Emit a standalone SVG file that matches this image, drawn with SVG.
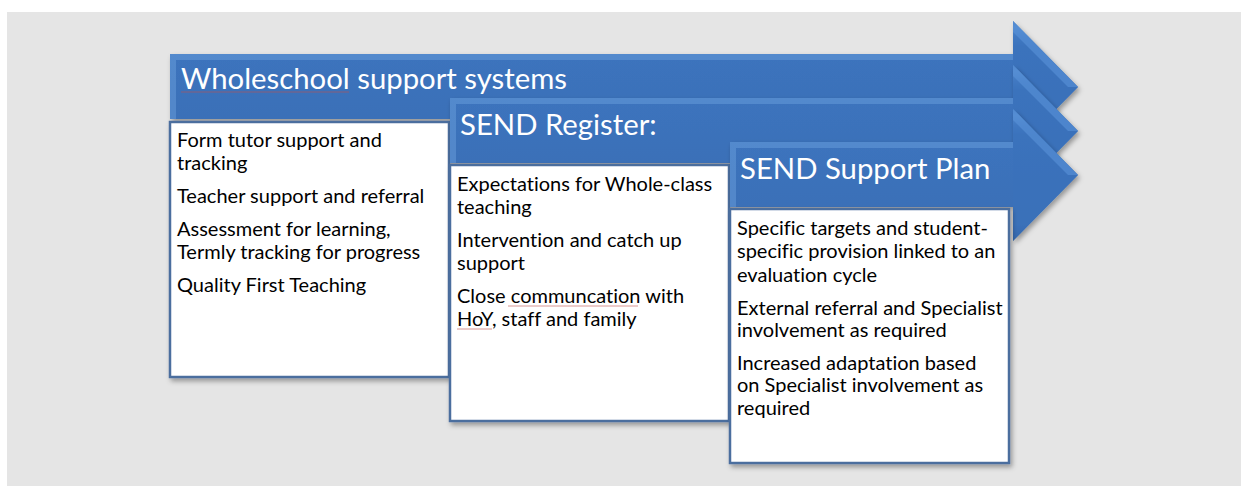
<svg xmlns="http://www.w3.org/2000/svg" width="1241" height="486" viewBox="0 0 1241 486">
<defs>
<linearGradient id="bodyGrad" x1="0" y1="0" x2="0" y2="1">
<stop offset="0" stop-color="#4f88d0"/>
<stop offset="0.05" stop-color="#6ea5e3"/>
<stop offset="0.12" stop-color="#4a84cc"/>
<stop offset="0.2" stop-color="#3c74be"/>
<stop offset="0.88" stop-color="#3a6fb6"/>
<stop offset="1" stop-color="#2c5a98"/>
</linearGradient>
<filter id="shadow" x="-5%" y="-10%" width="115%" height="130%">
<feDropShadow dx="2" dy="3" stdDeviation="2.5" flood-color="#000" flood-opacity="0.35"/>
</filter>
</defs>
<style>
.arrow{fill:url(#bodyGrad);filter:url(#shadow)}
.box{fill:#ffffff;stroke:#4c6e9e;stroke-width:2.5;filter:url(#shadow)}
.title{font-family:Lato,"Liberation Sans",sans-serif;font-size:29.3px;fill:#ffffff;font-variant-ligatures:none}
.txt{font-family:Lato,"Liberation Sans",sans-serif;font-size:20px;fill:#000000;font-variant-ligatures:none}
.spell{stroke:#c0504d;stroke-width:1;stroke-opacity:0.6}
</style>
<rect x="0" y="0" width="1241" height="486" fill="#ffffff"/>
<rect x="7" y="12" width="1234" height="474" fill="#e5e5e5"/>

<g id="node-wholeschool">
<path class="arrow" d="M170,54 H1013 V21 L1078,87 L1013,153 V119 H170 Z"/>
<path d="M1013,21 L1078,87 L1013,153 Z" fill="#3a72bb" opacity="0.6"/>
<path d="M1013,21 L1078,87 L1068,87 L1013,32 Z" fill="#5a92d8" opacity="0.6"/>
<path d="M170,54 H1013 V60 H176 V119 H170 Z" fill="#7eb1ea" opacity="0.35"/>
<text class="title" x="181" y="89">Wholeschool support systems</text>
<line class="spell" x1="181" y1="92" x2="349" y2="92"/>
<rect class="box" x="170" y="122" width="279" height="255"/>
<text class="txt" x="177" y="147">Form tutor support and</text>
<text class="txt" x="177" y="170">tracking</text>
<text class="txt" x="177" y="203">Teacher support and referral</text>
<text class="txt" x="177" y="236">Assessment for learning,</text>
<text class="txt" x="177" y="259">Termly tracking for progress</text>
<text class="txt" x="177" y="292">Quality First Teaching</text>
</g>

<g id="node-register">
<path class="arrow" d="M450,98 H1013 V65 L1078,131 L1013,197 V163 H450 Z"/>
<path d="M1013,65 L1078,131 L1013,197 Z" fill="#3a72bb" opacity="0.6"/>
<path d="M1013,65 L1078,131 L1068,131 L1013,76 Z" fill="#5a92d8" opacity="0.6"/>
<path d="M450,98 H1013 V104 H456 V163 H450 Z" fill="#7eb1ea" opacity="0.35"/>
<text class="title" x="460" y="135">SEND Register:</text>
<rect class="box" x="450" y="165" width="279" height="256"/>
<text class="txt" x="457" y="191">Expectations for Whole-class</text>
<text class="txt" x="457" y="214">teaching</text>
<text class="txt" x="457" y="247">Intervention and catch up</text>
<text class="txt" x="457" y="270">support</text>
<text class="txt" x="457" y="303">Close communcation with</text>
<text class="txt" x="457" y="326">HoY, staff and family</text>
<line class="spell" x1="508" y1="306" x2="638" y2="306"/>
<line class="spell" x1="457" y1="329" x2="492" y2="329"/>
</g>

<g id="node-plan">
<path class="arrow" d="M730,142 H1013 V109 L1078,175 L1013,241 V207 H730 Z"/>
<path d="M1013,109 L1078,175 L1013,241 Z" fill="#3a72bb" opacity="0.6"/>
<path d="M1013,109 L1078,175 L1068,175 L1013,120 Z" fill="#5a92d8" opacity="0.6"/>
<path d="M730,142 H1013 V148 H736 V207 H730 Z" fill="#7eb1ea" opacity="0.35"/>
<text class="title" x="740" y="179">SEND Support Plan</text>
<rect class="box" x="730" y="209" width="279" height="254"/>
<text class="txt" x="737" y="235">Specific targets and student-</text>
<text class="txt" x="737" y="258">specific provision linked to an</text>
<text class="txt" x="737" y="282">evaluation cycle</text>
<text class="txt" x="737" y="315">External referral and Specialist</text>
<text class="txt" x="737" y="337">involvement as required</text>
<text class="txt" x="737" y="370">Increased adaptation based</text>
<text class="txt" x="737" y="392">on Specialist involvement as</text>
<text class="txt" x="737" y="415">required</text>
</g>

<g id="connectors"></g>
</svg>
